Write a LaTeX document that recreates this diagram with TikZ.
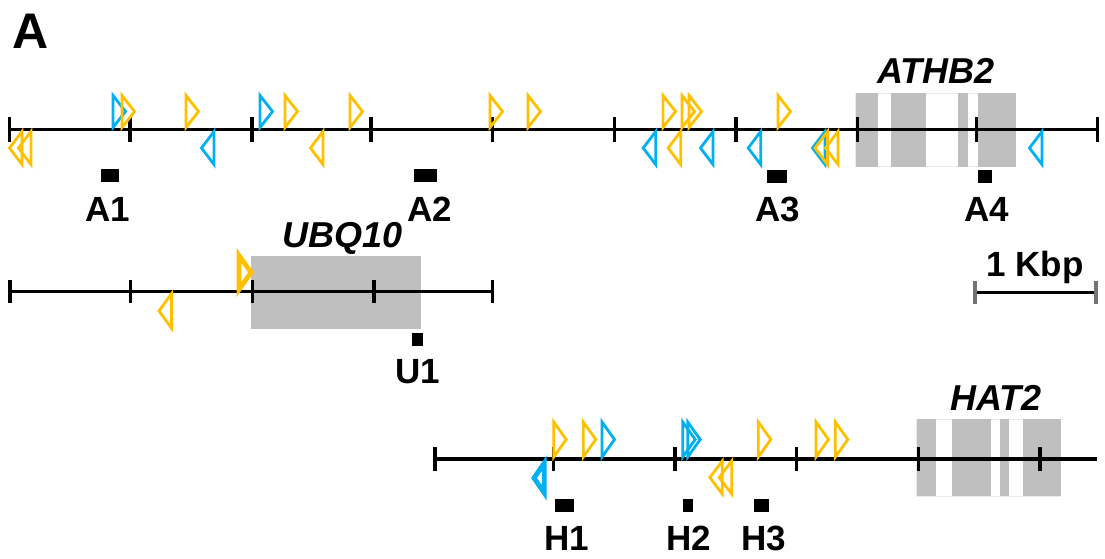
\documentclass[tikz,border=0pt]{standalone}
\usepackage{fontspec}
\setmainfont{Liberation Sans}
\definecolor{fwdor}{HTML}{FFC000}
\definecolor{tfblue}{HTML}{00B0F0}
\definecolor{exon}{HTML}{BFBFBF}
\tikzset{
  axis/.style={line width=3.1pt,black},
  tickmark/.style={line width=3.1pt,black},
  site/.style={line width=2.8pt,line join=miter},
  bigsite/.style={line width=4.8pt,line join=miter},
  exonbox/.style={fill=exon,draw=none},
  genespan/.style={draw=black!8,line width=0.6pt,fill=white},
  probe/.style={fill=black,draw=none},
  lbl/.style={inner sep=0pt,anchor=base,font=\fontsize{35}{40}\selectfont\bfseries},
  genename/.style={inner sep=0pt,anchor=base,font=\fontsize{36}{42}\selectfont\bfseries\itshape},
}
% forward site above the line: #1 style, #2 left x, #3 line y, #4 height
\newcommand\fwsite[4]{\draw[#1] (#2,#3-2) -- (#2,#3-#4) -- (#2+12.5,#3-1-#4/2) -- cycle;}
% reverse site below the line: #1 style, #2 right x, #3 line y, #4 height
\newcommand\rvsite[4]{\draw[#1] (#2,#3+2) -- (#2,#3+#4) -- (#2-12.5,#3+1+#4/2) -- cycle;}
\begin{document}
\begin{tikzpicture}[x=1pt,y=-1pt]
\useasboundingbox (0,0) rectangle (1105,559);

% panel letter
\node[inner sep=0pt,anchor=base,font=\fontsize{50}{54}\selectfont\bfseries] (panel) at (31,48.3) {A};

% ---------------- ATHB2 locus ----------------
\draw[genespan] (855.7,93.3) rectangle (1015.7,166.7);
\fill[exonbox] (855.7,93.3) rectangle (877.7,166.7);
\fill[exonbox] (891,93.3) rectangle (926,166.7);
\fill[exonbox] (958.3,93.3) rectangle (967.7,166.7);
\fill[exonbox] (977.7,93.3) rectangle (1015.7,166.7);
\node[genename] (athb2) at (936,83.3) {ATHB2};

\draw[axis] (9.3,129.5) -- (1097.7,129.5);
\foreach \t in {9.3,130,252,371,492.7,614.3,736,857.3,976.5,1097.7}
  \draw[tickmark] (\t,117.5) -- (\t,141.5);

\foreach \x in {113,260} \fwsite{site,tfblue}{\x}{129.5}{34};
\foreach \x in {122,186,285,350,490,528,663,682,689,778} \fwsite{site,fwdor}{\x}{129.5}{34};
\foreach \x in {22,31,323} \rvsite{site,fwdor}{\x}{129.5}{35};
\foreach \x in {214,655.7,713,760.7,825,1042} \rvsite{site,tfblue}{\x}{129.5}{35};
\foreach \x in {680.7,827.5,838} \rvsite{site,fwdor}{\x}{129.5}{35};

\fill[probe] (100.7,169.3) rectangle (119.3,181.7);
\fill[probe] (414.3,169.3) rectangle (437.3,181.7);
\fill[probe] (766.7,170) rectangle (786.7,182.7);
\fill[probe] (977.7,170) rectangle (991.7,182.7);
\node[lbl] (a1) at (108,221) {A1};
\node[lbl] (a2) at (430,221) {A2};
\node[lbl] (a3) at (778,221) {A3};
\node[lbl] (a4) at (987,221) {A4};

% ---------------- UBQ10 locus ----------------
\fill[exonbox] (251,256) rectangle (420.7,329.3);
\node[genename] (ubq10) at (342.5,247) {UBQ10};
\draw[axis] (10,291.7) -- (492.7,291.7);
\foreach \t in {10,130.7,252.3,374,492.7}
  \draw[tickmark] (\t,280.3) -- (\t,303.3);
\draw[bigsite,fwdor] (239,289.5) -- (239,255.5) -- (251,272.5) -- cycle;
\rvsite{site,fwdor}{171.5}{291.7}{36.5}
\fill[probe] (411.7,333.3) rectangle (423.3,345.7);
\node[lbl] (u1) at (418,383) {U1};

% scale bar
\draw[axis] (975,292.7) -- (1096,292.7);
\draw[line width=3.1pt,black!55] (975,281.3) -- (975,304);
\draw[line width=3.1pt,black!55] (1096,281.3) -- (1096,304);
\node[lbl] (kbp) at (1035,276) {1 Kbp};

% ---------------- HAT2 locus ----------------
\draw[genespan] (916.7,419.3) rectangle (1060.7,496);
\fill[exonbox] (916.7,419.3) rectangle (936,496);
\fill[exonbox] (952,419.3) rectangle (990.7,496);
\fill[exonbox] (1000,419.3) rectangle (1009.3,496);
\fill[exonbox] (1022.7,419.3) rectangle (1060.7,496);
\node[genename] (hat2) at (996,410) {HAT2};

\draw[axis] (435,459) -- (1097.3,459);
\foreach \t in {435,553.3,675,796.7,918.3,1040}
  \draw[tickmark] (\t,447) -- (\t,470.5);

\foreach \x in {553.7,583.3,758.3,816,835.3} \fwsite{site,fwdor}{\x}{459}{37};
\foreach \x in {602,682.7,687.7} \fwsite{site,tfblue}{\x}{459}{37};
\draw[bigsite,tfblue] (544.3,463) -- (544.3,493) -- (534,478) -- cycle;
\foreach \x in {722.3,731.7} \rvsite{site,fwdor}{\x}{459}{35};

\fill[probe] (555,499.3) rectangle (574,511.7);
\fill[probe] (683.3,499.3) rectangle (693.3,511.7);
\fill[probe] (754,499.3) rectangle (769.3,511.7);
\node[lbl] (h1) at (567,550) {H1};
\node[lbl] (h2) at (689,550) {H2};
\node[lbl] (h3) at (764,550) {H3};
\end{tikzpicture}
\end{document}
